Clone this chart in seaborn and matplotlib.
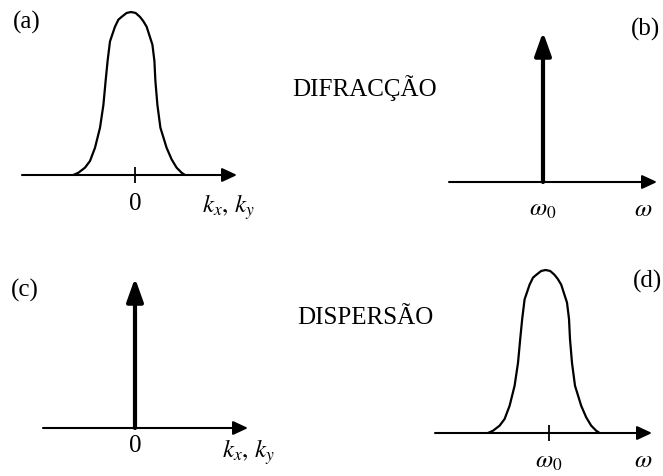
import matplotlib
matplotlib.use("Agg")
import matplotlib.pyplot as plt
import seaborn as sns
import pandas as pd

# ---- data ----
# spectral envelope: x relative to the peak (1 unit = 20 px), height normalised to the peak
profile_x = [-2.88, -2.63, -2.30, -2.05, -1.80, -1.55, -1.38, -1.27, -1.17, -1.05,
             -0.80, -0.63, -0.47, -0.22, 0.0, 0.23, 0.45, 0.62, 0.78, 1.07,
             1.17, 1.22, 1.32, 1.47, 1.78, 2.03, 2.28, 2.53, 2.70]
profile_h = [0.0, 0.014, 0.045, 0.086, 0.167, 0.29, 0.43, 0.576, 0.70, 0.82,
             0.91, 0.953, 0.97, 0.994, 1.0, 0.994, 0.97, 0.943, 0.91, 0.80,
             0.70, 0.576, 0.43, 0.29, 0.167, 0.096, 0.045, 0.014, 0.0]
peak_shift = [-0.2, -0.17]          # peak offset from the tick in panels (a) and (d)
delta_pos = [0.0]
delta_amp = [0.92]

panel_letters = ["(a)", "(b)", "(c)", "(d)"]
row_titles = ["DIFRACÇÃO", "DISPERSÃO"]
tick_labels = ["0", r"$\omega_0$", "0", r"$\omega_0$"]
axis_labels = [r"$k_x,\,k_y$", r"$\omega$", r"$k_x,\,k_y$", r"$\omega$"]

# ---- style ----
sns.set_theme(style="white")
plt.rcParams["font.family"] = ["Liberation Serif", "DejaVu Serif"]
plt.rcParams["mathtext.fontset"] = "stix"

W, H = 663, 476
UNIT, HEIGHT = 20.0, 163.0
FS = 18

fig = plt.figure(figsize=(W / 100, H / 100), dpi=100)
fig.patch.set_facecolor("white")


def make_axes(x_left, x_tip, tick_x, baseline):
    ax = fig.add_axes([x_left / W, 1 - baseline / H, (x_tip - x_left) / W, HEIGHT / H])
    ax.set_xlim((x_left - tick_x) / UNIT, (x_tip - tick_x) / UNIT)
    ax.set_ylim(0, 1)
    ax.patch.set_alpha(0)
    for s in ax.spines.values():
        s.set_visible(False)
    ax.set_yticks([])
    x0, x1 = ax.get_xlim()
    ax.annotate("", xy=(x1, 0), xytext=(x0, 0),
                arrowprops=dict(arrowstyle="-|>,head_length=9,head_width=4.2",
                                mutation_scale=1, lw=1.5, color="black",
                                shrinkA=0, shrinkB=0),
                annotation_clip=False)
    return ax


def draw_curve(ax, shift):
    df = pd.DataFrame({"x": [v + shift for v in profile_x], "h": profile_h})
    sns.lineplot(data=df, x="x", y="h", ax=ax, color="black", lw=1.6,
                 sort=False, clip_on=False, solid_joinstyle="round")
    ax.set_xlabel("")
    ax.set_ylabel("")


def draw_delta(ax):
    for p, a in zip(delta_pos, delta_amp):
        ax.annotate("", xy=(p, a), xytext=(p, 0),
                    arrowprops=dict(arrowstyle="-|>,head_length=14,head_width=5",
                                    mutation_scale=1, lw=3.0, color="black",
                                    shrinkA=0, shrinkB=0),
                    annotation_clip=False)


def set_tick(ax, label, length, pad):
    ax.set_xticks([0])
    ax.set_xticklabels([label])
    ax.tick_params(axis="x", bottom=True, direction="inout", length=length,
                   width=1.3, pad=pad, labelsize=FS, colors="black")


# panel geometry (px): x_left, x_tip, tick_x, baseline
ax_a = make_axes(22, 237, 135, 175)
ax_b = make_axes(449, 657, 543, 182)
ax_c = make_axes(43, 248, 135, 428)
ax_d = make_axes(435, 652, 549, 433)

draw_curve(ax_a, peak_shift[0])
draw_delta(ax_b)
draw_delta(ax_c)
draw_curve(ax_d, peak_shift[1])

set_tick(ax_a, tick_labels[0], 12, 7)
set_tick(ax_b, tick_labels[1], 0, 12)
set_tick(ax_c, tick_labels[2], 0, 5)
set_tick(ax_d, tick_labels[3], 12, 7)


def ftext(x, y, s, ha="center", va="center", size=FS):
    fig.text(x / W, 1 - y / H, s, ha=ha, va=va, fontsize=size, color="black")


for (x, y), s in zip([(27, 22), (645, 29), (25, 290), (647, 281)], panel_letters):
    ftext(x, y, s)

ftext(202, 207, axis_labels[0], ha="left")
ftext(643, 210, axis_labels[1])
ftext(222, 452, axis_labels[2], ha="left")
ftext(643, 461, axis_labels[3])

ftext(365, 88, row_titles[0])
ftext(365, 318, row_titles[1])

fig.savefig("out.png", dpi=100, facecolor="white")
